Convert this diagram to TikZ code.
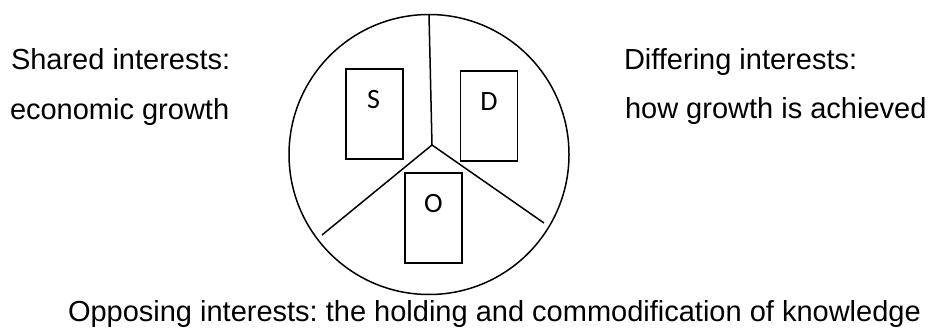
\documentclass[tikz,border=0pt]{standalone}
\usepackage{fontspec}
\setmainfont{Liberation Sans}
\newfontfamily\letterfont{Carlito}
\frenchspacing
\begin{document}
\begin{tikzpicture}[x=1pt,y=-1pt,
  every node/.style={inner sep=0pt,outer sep=0pt},
  txt/.style={anchor=base west,font=\fontsize{29}{29}\selectfont},
  wheel/.style={circle,draw,line width=1.5pt,minimum size=280pt},
  spoke/.style={line width=1.5pt},
  slot/.style={rectangle,draw,line width=1.5pt,minimum width=57pt,minimum height=90pt},
  letter/.style={font=\letterfont\fontsize{28}{28}\selectfont}]
\useasboundingbox (0,0) rectangle (934,329);
% circle and spokes
\node[wheel] (C) at (429,154.5) {};
\coordinate (J) at (432,145);
\coordinate (L) at (322,235);
\coordinate (R) at (544,223);
\draw[spoke] (C.north) -- (J);
\draw[spoke] (J) -- (L);
\draw[spoke] (J) -- (R);
% boxes
\node[slot] (S) at (374.5,114) {};
\node[slot] (D) at (489,116) {};
\node[slot] (O) at (433.5,218) {};
\node[letter] (Sl) at (373.5,100) {S};
\node[letter] (Dl) at (489,101.5) {D};
\node[letter] (Ol) at (433.5,203.5) {O};
% texts
\node[txt] (t1) at (11,70) {Shared interests:};
\node[txt] (t2) at (10,119.5) {economic growth};
\node[txt] (t3) at (624,70) {Differing interests:};
\node[txt] (t4) at (625,118.5) {how growth is achieved};
\node[txt] (t5) at (68,321) {Opposing interests: the holding and commodification of knowledge};
\end{tikzpicture}
\end{document}
